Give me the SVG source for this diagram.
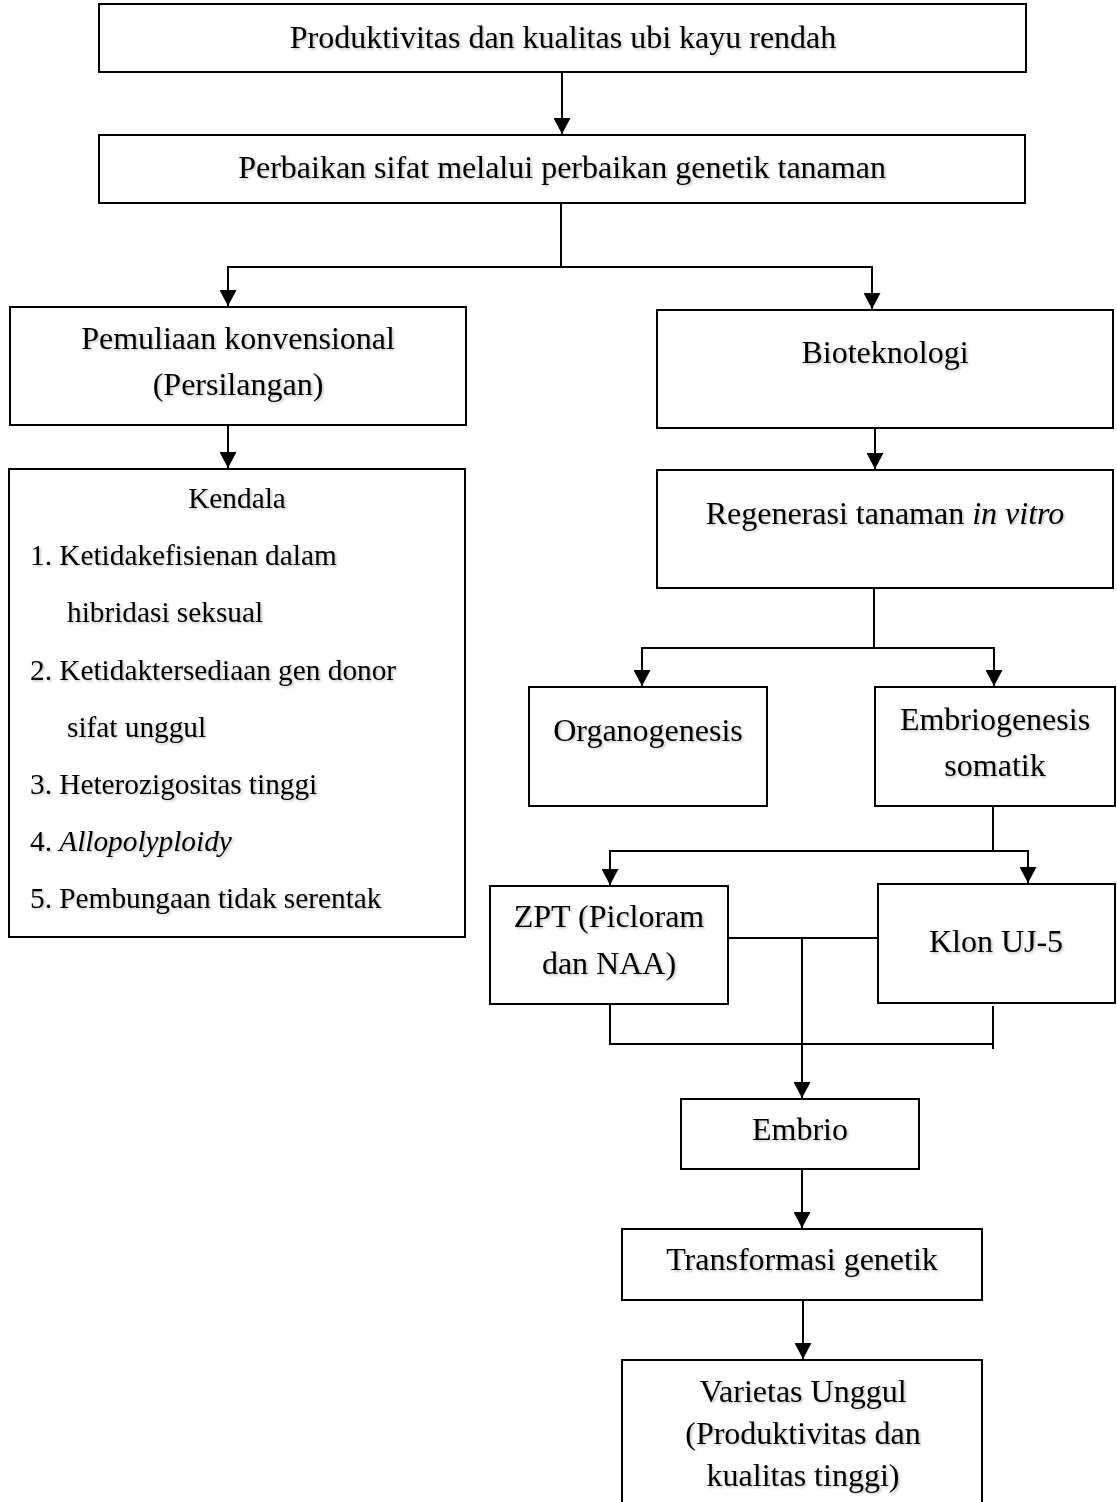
<svg xmlns="http://www.w3.org/2000/svg" width="1117" height="1502" viewBox="0 0 1117 1502">
<style>
.box{fill:#fff;stroke:#000;stroke-width:2}
.t{font-family:"Liberation Serif","Times New Roman",serif;font-size:32px;fill:#000;text-anchor:middle;filter:url(#sh)}
.l{font-family:"Liberation Serif","Times New Roman",serif;font-size:29.3px;fill:#000;filter:url(#sh)}
.c{fill:none;stroke:#000;stroke-width:2}
</style>
<defs>
<marker id="ah" markerUnits="userSpaceOnUse" markerWidth="17" markerHeight="17" refX="16" refY="8.5" orient="auto">
<path d="M0,0 L16,8.5 L0,17 z" fill="#000"/>
</marker>
<filter id="sh" x="-5%" y="-20%" width="110%" height="140%">
<feDropShadow dx="1.5" dy="1.5" stdDeviation="1" flood-color="#000" flood-opacity="0.25"/>
</filter>
</defs>
<rect width="1117" height="1502" fill="#fff"/>
<g id="connectors">
<line class="c" x1="562" y1="72" x2="562" y2="134" marker-end="url(#ah)"/>
<line class="c" x1="561" y1="203" x2="561" y2="267"/>
<line class="c" x1="227" y1="267" x2="873" y2="267"/>
<line class="c" x1="228" y1="267" x2="228" y2="306" marker-end="url(#ah)"/>
<line class="c" x1="872" y1="267" x2="872" y2="309" marker-end="url(#ah)"/>
<line class="c" x1="228" y1="425" x2="228" y2="468" marker-end="url(#ah)"/>
<line class="c" x1="875" y1="428" x2="875" y2="469" marker-end="url(#ah)"/>
<line class="c" x1="874" y1="588" x2="874" y2="648"/>
<line class="c" x1="641" y1="648" x2="995" y2="648"/>
<line class="c" x1="642" y1="648" x2="642" y2="686" marker-end="url(#ah)"/>
<line class="c" x1="994" y1="648" x2="994" y2="686" marker-end="url(#ah)"/>
<line class="c" x1="993" y1="806" x2="993" y2="851"/>
<line class="c" x1="609" y1="851" x2="1029" y2="851"/>
<line class="c" x1="610" y1="851" x2="610" y2="885" marker-end="url(#ah)"/>
<line class="c" x1="1028" y1="851" x2="1028" y2="883" marker-end="url(#ah)"/>
<line class="c" x1="728" y1="938" x2="878" y2="938"/>
<polyline class="c" points="610,1003 610,1044 993,1044"/>
<line class="c" x1="993" y1="1006" x2="993" y2="1049"/>
<line class="c" x1="802" y1="938" x2="802" y2="1098" marker-end="url(#ah)"/>
<line class="c" x1="802" y1="1169" x2="802" y2="1228" marker-end="url(#ah)"/>
<line class="c" x1="803" y1="1300" x2="803" y2="1359" marker-end="url(#ah)"/>
</g>
<g id="n1">
<rect class="box" x="99" y="4" width="927" height="68"/>
<text class="t" x="563" y="48">Produktivitas dan kualitas ubi kayu rendah</text>
</g>
<g id="n2">
<rect class="box" x="99" y="135" width="926" height="68"/>
<text class="t" x="562" y="178">Perbaikan sifat melalui perbaikan genetik tanaman</text>
</g>
<g id="n3">
<rect class="box" x="10" y="307" width="456" height="118"/>
<text class="t" x="238" y="349">Pemuliaan konvensional</text>
<text class="t" x="238" y="395">(Persilangan)</text>
</g>
<g id="n4">
<rect class="box" x="657" y="310" width="456" height="118"/>
<text class="t" x="885" y="363">Bioteknologi</text>
</g>
<g id="n5">
<rect class="box" x="9" y="469" width="456" height="468"/>
<text class="l" x="237" y="508" text-anchor="middle">Kendala</text>
<text class="l" x="30" y="565">1. Ketidakefisienan dalam</text>
<text class="l" x="67" y="622">hibridasi seksual</text>
<text class="l" x="30" y="680">2. Ketidaktersediaan gen donor</text>
<text class="l" x="67" y="737">sifat unggul</text>
<text class="l" x="30" y="794">3. Heterozigositas tinggi</text>
<text class="l" x="30" y="851">4. <tspan font-style="italic">Allopolyploidy</tspan></text>
<text class="l" x="30" y="908">5. Pembungaan tidak serentak</text>
</g>
<g id="n6">
<rect class="box" x="657" y="470" width="456" height="118"/>
<text class="t" x="885" y="524">Regenerasi tanaman <tspan font-style="italic">in vitro</tspan></text>
</g>
<g id="n7">
<rect class="box" x="529" y="687" width="238" height="119"/>
<text class="t" x="648" y="741">Organogenesis</text>
</g>
<g id="n8">
<rect class="box" x="875" y="687" width="240" height="119"/>
<text class="t" x="995" y="730">Embriogenesis</text>
<text class="t" x="995" y="776">somatik</text>
</g>
<g id="n9">
<rect class="box" x="490" y="886" width="238" height="118"/>
<text class="t" x="609" y="927">ZPT (Picloram</text>
<text class="t" x="609" y="974">dan NAA)</text>
</g>
<g id="n10">
<rect class="box" x="878" y="884" width="237" height="119"/>
<text class="t" x="996" y="952">Klon UJ-5</text>
</g>
<g id="n11">
<rect class="box" x="681" y="1099" width="238" height="70"/>
<text class="t" x="800" y="1140">Embrio</text>
</g>
<g id="n12">
<rect class="box" x="622" y="1229" width="360" height="71"/>
<text class="t" x="802" y="1270">Transformasi genetik</text>
</g>
<g id="n13">
<rect class="box" x="622" y="1360" width="360" height="150"/>
<text class="t" x="803" y="1402">Varietas Unggul</text>
<text class="t" x="803" y="1444">(Produktivitas dan</text>
<text class="t" x="803" y="1486">kualitas tinggi)</text>
</g>
</svg>
